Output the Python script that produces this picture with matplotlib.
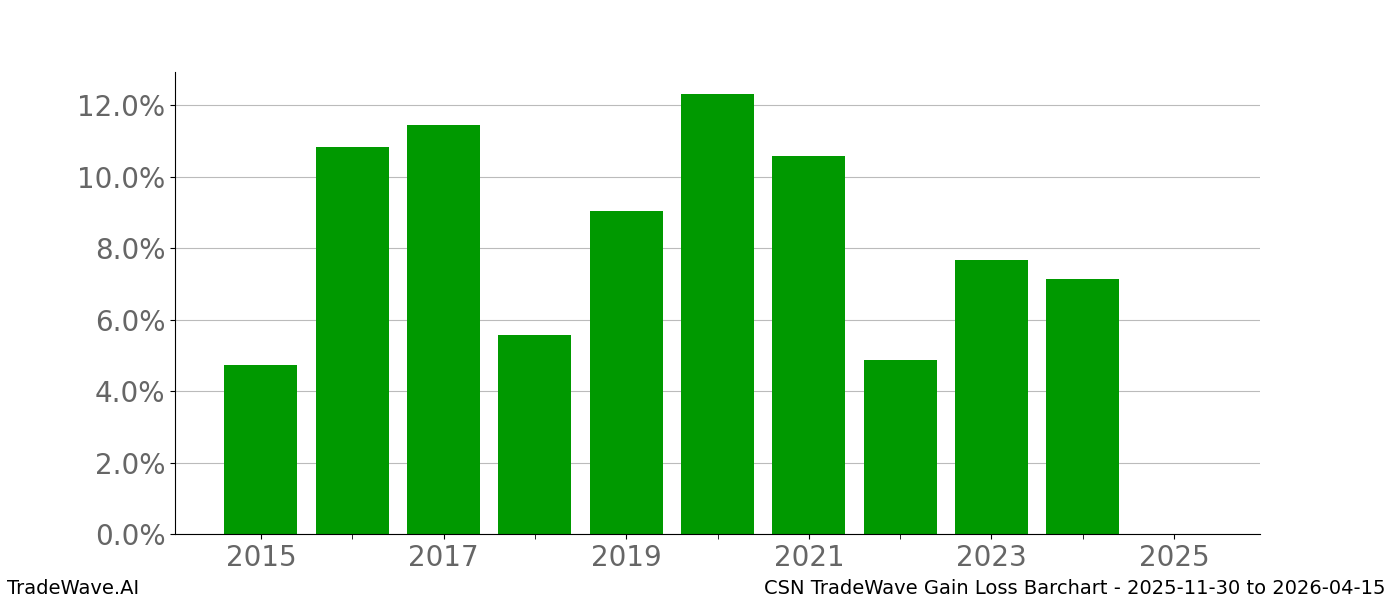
import matplotlib
matplotlib.use("Agg")
import matplotlib.pyplot as plt
from matplotlib.ticker import FuncFormatter

years = [2015, 2016, 2017, 2018, 2019, 2020, 2021, 2022, 2023, 2024, 2025]
gains = [4.73, 10.83, 11.44, 5.57, 9.03, 12.31, 10.57, 4.87, 7.66, 7.13, 0.0]
xticks = [2015, 2017, 2019, 2021, 2023, 2025]
left_label = "TradeWave.AI"
right_label = "CSN TradeWave Gain Loss Barchart - 2025-11-30 to 2026-04-15"

fig, ax = plt.subplots(figsize=(14, 6), dpi=100)
ax.bar(years, gains, width=0.8, color="#009900", zorder=2)
ax.set_xticks(xticks)
ax.set_xticks(years, minor=True)
ax.yaxis.set_major_formatter(FuncFormatter(lambda v, p: f"{v:.1f}%"))
ax.set_yticks([0, 2, 4, 6, 8, 10, 12])
ax.grid(axis="y", color="#bbbbbb", linewidth=0.8, zorder=0)
ax.spines["top"].set_visible(False)
ax.spines["right"].set_visible(False)
ax.tick_params(axis="both", which="major", labelsize=20, labelcolor="#666666")
ax.tick_params(axis="x", which="minor", length=3.5)
fig.text(0.005, 0.019, left_label, fontsize=14, ha="left", va="center")
fig.text(0.99, 0.019, right_label, fontsize=14, ha="right", va="center")
fig.savefig("out.png")
